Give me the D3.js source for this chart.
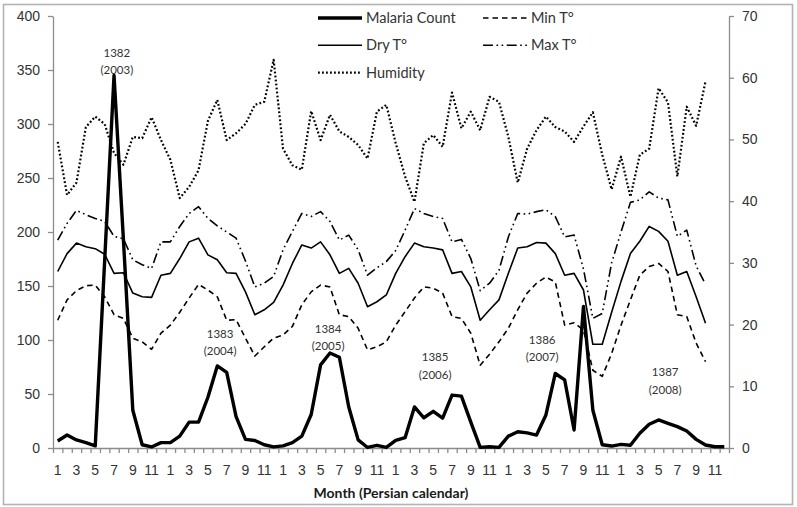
<!DOCTYPE html>
<html>
<head>
<meta charset="utf-8">
<script src="https://cdn.jsdelivr.net/npm/d3@7"></script>
<style>
  body { margin: 0; background: #fff; }
  svg { display: block; font-family: Lato, "Open Sans", "DejaVu Sans", sans-serif; }
</style>
</head>
<body>
<svg id="chart" width="797" height="507"></svg>
<script>
// Persian years and months (72 categories)
const years = ["1382", "1383", "1384", "1385", "1386", "1387"];
const months = [1, 2, 3, 4, 5, 6, 7, 8, 9, 10, 11, 12];
const categories = years.flatMap(y => months.map(m => y + "-" + m));

// malaria count (left axis)
const malaria = [
  6.5, 12, 7.5, 5, 2, 173, 345, 193, 35, 3, 1, 5,
  5, 11, 24, 24, 47, 76, 70, 29, 8, 7, 3, 1,
  2, 5, 11, 31, 77, 88, 84, 38, 7.5, 0.5, 2.5, 0.5,
  7, 9.6, 38, 28, 34, 27.7, 49, 48, 24, 0.6, 1.2, 0.6,
  11, 15, 14, 12, 30.6, 69, 63, 16.7, 131, 35, 3, 1.8,
  3.4, 2.5, 13.6, 22, 26, 22.8, 19.8, 15.7, 8, 2.8, 1.2, 1.2
];

// temperatures and humidity (right axis), 70 months
const dryT = [
  28.6, 31.5, 33.2, 32.6, 32.3, 31.4, 28.3, 28.4, 25.1, 24.5, 24.4, 28.0,
  28.3, 30.7, 33.4, 34.0, 31.3, 30.5, 28.4, 28.3, 25.3, 21.6, 22.4, 23.6,
  26.4, 29.9, 32.9, 32.4, 33.4, 31.3, 28.3, 29.1, 26.7, 22.9, 23.7, 24.8,
  28.3, 31.0, 33.2, 32.6, 32.4, 32.1, 28.3, 28.6, 26.1, 20.7, 22.4, 24.0,
  28.3, 32.4, 32.6, 33.3, 33.2, 31.5, 28.0, 28.3, 25.6, 16.8, 16.8, 22.0,
  27.0, 31.5, 33.5, 35.9, 35.1, 33.5, 28.0, 28.6, 24.5, 20.2
];
const minT = [
  20.7, 24.0, 25.5, 26.3, 26.4, 24.5, 21.6, 21.0, 17.8, 17.2, 16.0, 18.6,
  19.9, 22.0, 24.3, 26.5, 25.6, 24.5, 20.7, 20.8, 17.8, 14.9, 16.4, 17.8,
  18.3, 19.7, 23.2, 25.3, 26.4, 26.1, 21.6, 21.3, 19.4, 15.9, 16.4, 17.2,
  19.9, 22.1, 24.3, 26.1, 25.9, 25.1, 21.3, 21.0, 18.6, 13.4, 15.2, 17.2,
  19.4, 22.4, 25.1, 26.7, 27.7, 26.9, 19.9, 20.3, 19.1, 12.6, 11.6, 15.3,
  19.9, 24.0, 28.0, 29.4, 29.9, 28.6, 21.6, 21.3, 17.0, 14.0
];
const maxT = [
  33.7, 36.4, 38.5, 37.8, 37.2, 36.7, 34.3, 33.9, 30.5, 29.7, 29.1, 33.4,
  33.4, 35.9, 38.0, 39.1, 37.2, 36.0, 35.0, 34.0, 30.3, 26.1, 26.7, 27.8,
  32.1, 35.1, 38.0, 37.5, 38.3, 36.7, 33.7, 34.5, 32.1, 28.0, 29.2, 30.2,
  32.0, 35.3, 38.8, 38.0, 37.5, 37.2, 33.4, 33.8, 30.7, 25.5, 26.7, 28.8,
  34.2, 38.0, 37.9, 38.3, 38.6, 37.5, 34.2, 34.5, 29.0, 21.0, 21.8, 30.0,
  35.0, 39.8, 40.2, 41.5, 40.5, 40.2, 34.3, 35.3, 29.5, 26.5
];
const humidity = [
  49.6, 41.0, 43.0, 52.0, 53.7, 52.5, 47.8, 45.9, 50.4, 50.2, 53.6, 49.9,
  46.7, 40.5, 42.3, 45.0, 53.0, 56.4, 49.9, 51.0, 52.5, 55.6, 56.1, 62.9,
  48.5, 45.8, 45.1, 54.6, 49.9, 54.0, 51.3, 50.4, 49.1, 46.9, 54.5, 55.6,
  49.4, 44.0, 39.9, 49.4, 50.7, 48.8, 57.6, 51.8, 54.5, 51.5, 56.9, 56.1,
  50.4, 43.0, 48.5, 51.5, 53.7, 52.0, 51.3, 49.6, 52.1, 54.4, 47.5, 41.9,
  47.2, 40.7, 47.5, 48.5, 58.3, 56.0, 44.0, 55.3, 52.2, 59.4
];

const leftTicks = [0, 50, 100, 150, 200, 250, 300, 350, 400];
const rightTicks = [0, 10, 20, 30, 40, 50, 60, 70];

// year notes: centre category (fractional) and left-axis level
const yearNotes = [
  { lines: ["1382", "(2003)"], at: 6.3, level: 366 },
  { lines: ["1383", "(2004)"], at: 17.3, level: 106 },
  { lines: ["1384", "(2005)"], at: 28.8, level: 110 },
  { lines: ["1385", "(2006)"], at: 40.2, level: 84 },
  { lines: ["1386", "(2007)"], at: 51.6, level: 100 },
  { lines: ["1387", "(2008)"], at: 64.7, level: 70 }
];

const width = 797, height = 507;
const margin = { top: 16, right: 68, bottom: 59, left: 53 };
const plotW = width - margin.left - margin.right,
      plotH = height - margin.top - margin.bottom;

const svg = d3.select("#chart");

svg.append("rect")
  .attr("x", 3.5).attr("y", 4.5)
  .attr("width", 789).attr("height", 500)
  .attr("fill", "#fff")
  .attr("stroke", "#b3b3b3")
  .attr("stroke-width", 1.6);

const g = svg.append("g")
  .attr("transform", `translate(${margin.left},${margin.top})`);

const x = d3.scaleBand().domain(categories).range([0, plotW]);
const xb = d3.scaleLinear().domain([0, categories.length]).range([0, plotW]);
const yL = d3.scaleLinear().domain([0, 400]).range([plotH, 0]);
const yR = d3.scaleLinear().domain([0, 70]).range([plotH, 0]);
const cx = i => x(categories[i]) + x.bandwidth() / 2;

const axisColor = "#8c8c8c", textColor = "#333";

// left axis
const gl = g.append("g")
  .call(d3.axisLeft(yL).tickValues(leftTicks).tickSize(5).tickSizeOuter(0).tickPadding(8));
// right axis
const gr = g.append("g")
  .attr("transform", `translate(${plotW},0)`)
  .call(d3.axisRight(yR).tickValues(rightTicks).tickSize(5).tickSizeOuter(0).tickPadding(8));
// bottom axis: ticks at category edges
const gb = g.append("g")
  .attr("transform", `translate(0,${plotH})`)
  .call(d3.axisBottom(xb).tickValues(d3.range(categories.length + 1)).tickSize(5).tickSizeOuter(0).tickFormat(""));
// bottom labels: every odd month
const gbl = g.append("g")
  .attr("transform", `translate(0,${plotH})`)
  .call(d3.axisBottom(x).tickSize(0).tickPadding(17)
    .tickValues(categories.filter((c, i) => i % 2 === 0))
    .tickFormat(c => c.split("-")[1]));
gbl.select(".domain").remove();

[gl, gr, gb].forEach(a => {
  a.selectAll("path, line").attr("stroke", axisColor).attr("stroke-width", 1.3);
});
[gl, gr, gbl].forEach(a => {
  a.selectAll("text").attr("fill", textColor).style("font-size", "14px");
});

// axis title
svg.append("text")
  .attr("x", margin.left + plotW / 2)
  .attr("y", 498)
  .attr("text-anchor", "middle")
  .attr("fill", "#1a1a1a")
  .style("font-size", "14px")
  .style("font-weight", "bold")
  .text("Month (Persian calendar)");

// series
const series = [
  { name: "Humidity", values: humidity, y: yR, width: 2.2, dash: "1.8,2.2" },
  { name: "Max T°", values: maxT, y: yR, width: 1.6, dash: "10,3.5,1.6,3.5,1.6,3.5" },
  { name: "Min T°", values: minT, y: yR, width: 1.6, dash: "5.5,4" },
  { name: "Dry T°", values: dryT, y: yR, width: 1.6, dash: null },
  { name: "Malaria Count", values: malaria, y: yL, width: 3.4, dash: null }
];

series.forEach(s => {
  const line = d3.line().x((d, i) => cx(i)).y(d => s.y(d));
  g.append("path")
    .datum(s.values)
    .attr("fill", "none")
    .attr("stroke", "#000")
    .attr("stroke-width", s.width)
    .attr("stroke-linejoin", "round")
    .attr("stroke-dasharray", s.dash)
    .attr("d", line);
});

// year notes
const xf = d3.scaleLinear().domain([0, categories.length - 1]).range([cx(0), cx(categories.length - 1)]);
yearNotes.forEach(n => {
  const t = g.append("text")
    .attr("x", xf(n.at))
    .attr("y", yL(n.level))
    .attr("text-anchor", "middle")
    .attr("fill", textColor)
    .style("font-size", "11.5px");
  n.lines.forEach((l, i) => {
    t.append("tspan")
      .attr("x", xf(n.at))
      .attr("dy", i === 0 ? "0.35em" : "1.5em")
      .text(l);
  });
});

// legend
const legendItems = [
  { name: "Malaria Count", width: 3.4, dash: null, col: 0, row: 0 },
  { name: "Min T°", width: 1.6, dash: "5.5,4", col: 1, row: 0 },
  { name: "Dry T°", width: 1.6, dash: null, col: 0, row: 1 },
  { name: "Max T°", width: 1.6, dash: "10,3.5,1.6,3.5,1.6,3.5", col: 1, row: 1 },
  { name: "Humidity", width: 2.2, dash: "1.8,2.2", col: 0, row: 2 }
];
const legend = svg.append("g").attr("transform", "translate(318,18)");
legendItems.forEach(d => {
  const lg = legend.append("g")
    .attr("transform", `translate(${d.col * 165},${d.row * 27.3})`);
  lg.append("line")
    .attr("x1", 0).attr("x2", 44).attr("y1", 0).attr("y2", 0)
    .attr("stroke", "#000")
    .attr("stroke-width", d.width)
    .attr("stroke-dasharray", d.dash);
  lg.append("text")
    .attr("x", 48).attr("y", 0).attr("dy", "0.35em")
    .attr("fill", textColor)
    .style("font-size", "14.5px")
    .text(d.name);
});
</script>
</body>
</html>
